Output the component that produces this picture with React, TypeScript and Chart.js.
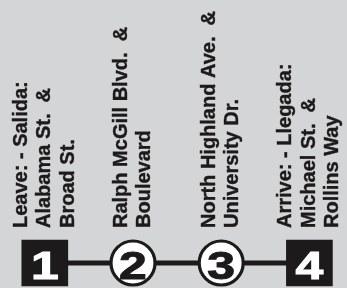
import React, { useEffect, useRef } from "react";
import { Chart, registerables } from "chart.js";

Chart.register(...registerables);

// ---- data ----
const stopPositions = [1, 2, 3, 4];
const stopNumbers = ["1", "2", "3", "4"];
const stopKinds = ["terminal", "timepoint", "timepoint", "terminal"];
const stopLabels1 = ["Leave: - Salida:", "Alabama St.  &", "Broad St."];
const stopLabels2 = ["Ralph McGill Blvd.  &", "Boulevard"];
const stopLabels3 = ["North Highland Ave.  &", "University Dr."];
const stopLabels4 = ["Arrive: - Llegada:", "Michael St.  &", "Rollins Way"];
const stopLabels = [stopLabels1, stopLabels2, stopLabels3, stopLabels4];

const BG = "#d4d5d7";
const INK = "#1c1a1a";
const FONT = '"Liberation Sans", Arial, Helvetica, sans-serif';

const labelsPlugin = {
  id: "stopLabels",
  afterDatasetsDraw(chart: any) {
    const ctx = chart.ctx;
    const xs = chart.scales.x;
    const ys = chart.scales.y;
    const lineY = ys.getPixelForValue(0);
    const textStartY = ys.getPixelForValue(35);
    stopPositions.forEach((pos, i) => {
      const x = xs.getPixelForValue(pos);
      // numbers
      ctx.save();
      ctx.translate(x, lineY + 16);
      ctx.scale(1.28, 1);
      ctx.font = `bold 39px ${FONT}`;
      ctx.textAlign = "center";
      ctx.textBaseline = "alphabetic";
      const c = stopKinds[i] === "terminal" ? "#ffffff" : INK;
      ctx.fillStyle = c;
      ctx.strokeStyle = c;
      ctx.lineWidth = 1;
      ctx.fillText(stopNumbers[i], 0, 0);
      ctx.strokeText(stopNumbers[i], 0, 0);
      ctx.restore();
      // rotated labels
      const lines = stopLabels[i];
      const n = lines.length;
      ctx.save();
      ctx.font = `bold 20px ${FONT}`;
      ctx.fillStyle = INK;
      ctx.strokeStyle = INK;
      ctx.lineWidth = 0.4;
      ctx.textAlign = "left";
      ctx.textBaseline = "alphabetic";
      lines.forEach((t, k) => {
        const bx = x + (k - (n - 1) / 2) * 23.5 + 5.5;
        ctx.save();
        ctx.translate(bx, textStartY);
        ctx.rotate(-Math.PI / 2);
        ctx.fillText(t, 0, 0);
        ctx.strokeText(t, 0, 0);
        ctx.restore();
      });
      ctx.restore();
    });
  },
};

export default function App() {
  const ref = useRef<HTMLCanvasElement | null>(null);
  useEffect(() => {
    document.body.style.margin = "0";
    if (!ref.current) return;
    const chart = new Chart(ref.current, {
      type: "line",
      data: {
        datasets: [
          {
            data: stopPositions.map((p) => ({ x: p, y: 0 })),
            borderColor: INK,
            borderWidth: 5,
            pointStyle: stopKinds.map((k) => (k === "terminal" ? "rect" : "circle")) as any,
            pointRadius: stopKinds.map((k) => (k === "terminal" ? 33 : 22)),
            pointBackgroundColor: stopKinds.map((k) => (k === "terminal" ? INK : "#ffffff")),
            pointBorderColor: INK,
            pointBorderWidth: stopKinds.map((k) => (k === "terminal" ? 0 : 3.2)),
            clip: false as any,
          },
        ],
      },
      options: {
        animation: false,
        responsive: true,
        maintainAspectRatio: false,
        layout: { padding: 0, autoPadding: false },
        events: [],
        plugins: { legend: { display: false }, tooltip: { enabled: false } },
        scales: {
          x: { type: "linear", display: false, min: 1 - 44.8 / 88.2, max: 1 + (347 - 44.8) / 88.2 },
          y: { type: "linear", display: false, min: -25, max: 263 },
        },
      },
      plugins: [labelsPlugin],
    });
    return () => chart.destroy();
  }, []);
  return (
    <div style={{ width: 347, height: 288, background: BG, position: "relative" }}>
      <canvas ref={ref} />
    </div>
  );
}
